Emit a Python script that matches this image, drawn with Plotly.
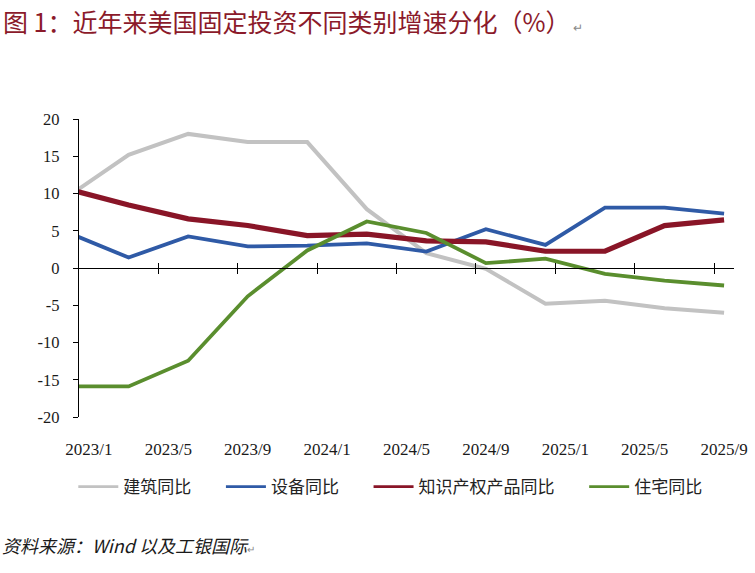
import plotly.graph_objects as go

# Quarterly observations (first one, 2022/12, lies just left of the visible axis)
periods = ["2022/12", "2023/3", "2023/6", "2023/9", "2023/12", "2024/3",
           "2024/6", "2024/9", "2024/12", "2025/3", "2025/6", "2025/9"]
construction = [9.7, 15.2, 18.0, 16.9, 16.9, 7.9, 2.0, -0.1, -4.8, -4.4, -5.4, -6.0]
equipment = [4.7, 1.4, 4.25, 2.9, 3.0, 3.3, 2.2, 5.2, 3.1, 8.1, 8.1, 7.3]
ip_products = [10.55, 8.45, 6.6, 5.7, 4.35, 4.55, 3.65, 3.5, 2.25, 2.25, 5.7, 6.45]
residential = [-15.9, -15.9, -12.45, -3.8, 2.35, 6.25, 4.7, 0.65, 1.25, -0.8, -1.7, -2.35]

series_names = ["建筑同比", "设备同比", "知识产权产品同比", "住宅同比"]
series_colors = ["#C2C2C2", "#2F5AA6", "#891527", "#5A8E2E"]
series_widths = [4, 3.8, 5.2, 3.8]

tick_labels = ["2023/1", "2023/5", "2023/9", "2024/1", "2024/5",
               "2024/9", "2025/1", "2025/5", "2025/9"]
y_ticks = [-20, -15, -10, -5, 0, 5, 10, 15, 20]


def month_index(s):
    y, m = s.split("/")
    return (int(y) - 2023) * 12 + (int(m) - 1)


xs = [month_index(p) for p in periods]
tick_pos = [month_index(t) for t in tick_labels]
boundary_pos = [p - 0.5 for p in tick_pos[1:]]

pad = "\u3000\u00a0\u00a0"
fig = go.Figure()
for name, vals, col, w in zip(series_names,
                              [construction, equipment, ip_products, residential],
                              series_colors, series_widths):
    fig.add_trace(go.Scatter(x=xs, y=vals, mode="lines", name=name,
                             legendgroup=name, showlegend=False,
                             line=dict(color=col, width=w),
                             hoverinfo="skip"))
# legend entries (thinner key lines, as in the original)
for name, col in zip(series_names, series_colors):
    fig.add_trace(go.Scatter(x=[None], y=[None], mode="lines", name=name + pad,
                             legendgroup=name, showlegend=True,
                             line=dict(color=col, width=2.6), hoverinfo="skip"))

# invisible traces to activate the helper x axes
fig.add_trace(go.Scatter(x=[tick_pos[0]], y=[0], xaxis="x2", mode="markers",
                         marker=dict(opacity=0), showlegend=False, hoverinfo="skip"))
fig.add_trace(go.Scatter(x=[tick_pos[0]], y=[0], xaxis="x3", mode="markers",
                         marker=dict(opacity=0), showlegend=False, hoverinfo="skip"))

xr = [-0.5, 32.5]
font_serif = "Liberation Serif, Times New Roman, serif"
cjk = "Noto Sans CJK SC"

fig.update_layout(
    width=755, height=573,
    margin=dict(l=78.7, r=20.7, t=119, b=156, autoexpand=False),
    paper_bgcolor="white", plot_bgcolor="white",
    showlegend=True,
    legend=dict(orientation="h", x=-0.0087, xanchor="left", y=-0.235, yanchor="middle",
                font=dict(family=cjk, size=17, color="#222222"),
                itemwidth=40, tracegroupgap=0, traceorder="normal"),
    xaxis=dict(range=xr, anchor="free", position=0.5, showline=True,
               linecolor="black", linewidth=1.3, tickmode="array",
               tickvals=boundary_pos, ticks="outside", ticklen=5, tickwidth=1.3,
               tickcolor="black", showticklabels=False, showgrid=False, zeroline=False),
    xaxis3=dict(range=xr, overlaying="x", anchor="free", position=0.5, showline=False,
                tickmode="array", tickvals=boundary_pos, ticks="inside", ticklen=5,
                tickwidth=1.3, tickcolor="black", showticklabels=False,
                showgrid=False, zeroline=False),
    xaxis2=dict(range=xr, overlaying="x", anchor="y", side="bottom", showline=False,
                tickmode="array", tickvals=tick_pos, ticktext=tick_labels, ticks="",
                ticklabelstandoff=20, showgrid=False, zeroline=False,
                tickfont=dict(family=font_serif, size=17, color="#1a1a1a")),
    yaxis=dict(range=[-20, 20], tickmode="array", tickvals=y_ticks,
               ticktext=[str(v) for v in y_ticks], showline=True, linecolor="black",
               linewidth=1.3, ticks="outside", ticklen=5, tickwidth=1.3,
               tickcolor="black", showgrid=False, zeroline=False,
               ticklabelstandoff=10,
               tickfont=dict(family=font_serif, size=16.5, color="#1a1a1a")),
)

fig.add_annotation(xref="paper", yref="paper", x=-0.1185, y=1.396,
                   xanchor="left", yanchor="top", showarrow=False,
                   text="图 1：近年来美国固定投资不同类别增速分化（%）"
                        "<span style='font-size:12px;color:#888888'> ↵</span>",
                   font=dict(family=cjk, size=25, color="#8B1A2A"))

fig.add_annotation(xref="paper", yref="paper", x=-0.120, y=-0.4295,
                   xanchor="left", yanchor="middle", showarrow=False,
                   text="<i>资料来源：Wind 以及工银国际</i>"
                        "<span style='font-size:10px;color:#888888'>↵</span>",
                   font=dict(family=cjk, size=18, color="#1a1a1a"))

fig.write_html("out.html", config={"displayModeBar": False},
               post_script="document.body.style.margin='0';")
